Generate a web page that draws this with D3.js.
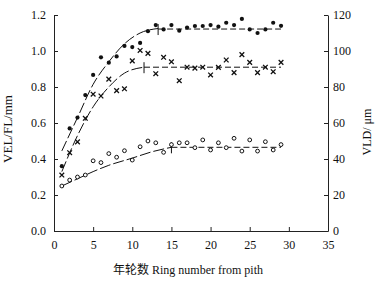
<!DOCTYPE html>
<html lang="zh">
<head>
<meta charset="UTF-8" />
<title>VEL / FL / VLD vs ring number</title>
<script src="https://d3js.org/d3.v7.min.js"></script>
<style>
  body { margin: 0; background: #fff; }
  svg { display: block; }
  .axis text { font-family: "Liberation Serif", "DejaVu Serif", serif; font-size: 12px; fill: #111; }
  .axis path, .axis line { stroke: #222; stroke-width: 1; }
  .lbl { font-family: "Liberation Serif", "Noto Sans CJK SC", serif; font-size: 12px; fill: #111; }
</style>
</head>
<body>
<svg width="378" height="290"></svg>
<script>
  const width = 378, height = 290;

  // ring number from pith
  const rings = d3.range(1, 30);

  // filled circles: VEL (mm)
  const velVals = [0.36, 0.57, 0.63, 0.755, 0.867, 0.965, 0.935, 0.97, 1.028, 1.022, 1.045, 1.11,
                   1.144, 1.12, 1.144, 1.113, 1.13, 1.139, 1.139, 1.144, 1.135, 1.157, 1.144, 1.178,
                   1.12, 1.10, 1.12, 1.157, 1.14];
  // crosses: FL (mm)
  const flVals = [0.311, 0.435, 0.495, 0.626, 0.76, 0.75, 0.844, 0.78, 0.79, 0.945, 1.003, 0.987,
                  0.874, 0.965, 0.94, 0.835, 0.91, 0.905, 0.91, 0.867, 0.909, 0.95, 0.88, 0.98,
                  0.937, 0.88, 0.91, 0.885, 0.937];
  // open circles: VLD (µm)
  const vldVals = [25, 28.3, 30, 31.1, 39, 38, 43, 41, 44.6, 39.4, 46.8, 50,
                   49, 43.7, 48, 49, 49, 46.3, 50.6, 45, 49, 46.3, 51.5, 44.4,
                   50.6, 44.4, 49.6, 45, 48];

  // fitted curves, break point then plateau
  const velFitX = [1, 3, 5, 7, 9, 11, 13.3], velFitY = [0.445, 0.63, 0.815, 0.94, 1.04, 1.10, 1.125];
  const velBreak = 13.3, velPlateau = 1.122;
  const flFitX = [1, 3, 5, 7, 9, 11.5], flFitY = [0.33, 0.53, 0.69, 0.80, 0.877, 0.91];
  const flBreak = 11.5, flPlateau = 0.91;
  const vldFitX = [1, 3, 5, 7, 10, 12.5, 15], vldFitY = [25, 29, 33, 36.5, 40.5, 44, 46.5];
  const vldBreak = 15, vldPlateau = 46.5;
  const lastRing = 29;

  const xTicks = [0, 5, 10, 15, 20, 25, 30, 35];
  const yLeftTicks = [0, 0.2, 0.4, 0.6, 0.8, 1.0, 1.2];
  const yRightTicks = [0, 20, 40, 60, 80, 100, 120];

  const x = d3.scaleLinear().domain([0, 35]).range([54, 328]);
  const yL = d3.scaleLinear().domain([0, 1.2]).range([231, 15]);
  const yR = d3.scaleLinear().domain([0, 120]).range([231, 15]);

  const svg = d3.select("svg");

  svg.append("g").attr("class", "axis")
    .attr("transform", `translate(${x(0)},0)`)
    .call(d3.axisLeft(yL).tickValues(yLeftTicks).tickFormat(d3.format(".1f")).tickSizeInner(-4).tickSizeOuter(0).tickPadding(8));

  svg.append("g").attr("class", "axis")
    .attr("transform", `translate(${x(35)},0)`)
    .call(d3.axisRight(yR).tickValues(yRightTicks).tickFormat(d3.format("d")).tickSizeInner(-4).tickSizeOuter(0).tickPadding(5));

  svg.append("g").attr("class", "axis")
    .attr("transform", `translate(0,${yL(0)})`)
    .call(d3.axisBottom(x).tickValues(xTicks).tickSizeInner(-4).tickSizeOuter(0).tickPadding(9));

  const line = d3.line().curve(d3.curveMonotoneX);

  function drawFit(fx, fy, brk, plat, ys) {
    const pts = fx.map((v, i) => [x(v), ys(fy[i])]);
    svg.append("path").attr("d", line(pts))
      .attr("fill", "none").attr("stroke", "#111").attr("stroke-width", 1)
      .attr("stroke-dasharray", "11,3");
    svg.append("path").attr("d", d3.line()([[x(brk), ys(plat)], [x(lastRing), ys(plat)]]))
      .attr("fill", "none").attr("stroke", "#111").attr("stroke-width", 1)
      .attr("stroke-dasharray", "6,3");
    svg.append("line")
      .attr("x1", x(brk)).attr("x2", x(brk))
      .attr("y1", ys(plat) - 5).attr("y2", ys(plat) + 6)
      .attr("stroke", "#111").attr("stroke-width", 1);
  }

  drawFit(velFitX, velFitY, velBreak, velPlateau, yL);
  drawFit(flFitX, flFitY, flBreak, flPlateau, yL);
  drawFit(vldFitX, vldFitY, vldBreak, vldPlateau, yR);

  // filled circles
  svg.append("g").selectAll("circle")
    .data(rings.map((r, i) => [r, velVals[i]]))
    .join("circle")
    .attr("cx", d => x(d[0])).attr("cy", d => yL(d[1]))
    .attr("r", 2.1).attr("fill", "#111");

  // crosses
  svg.append("g").selectAll("path")
    .data(rings.map((r, i) => [r, flVals[i]]))
    .join("path")
    .attr("transform", d => `translate(${x(d[0])},${yL(d[1])})`)
    .attr("d", d3.symbol(d3.symbolX, 16))
    .attr("fill", "none").attr("stroke", "#111").attr("stroke-width", 1.3);

  // open circles
  svg.append("g").selectAll("circle")
    .data(rings.map((r, i) => [r, vldVals[i]]))
    .join("circle")
    .attr("cx", d => x(d[0])).attr("cy", d => yR(d[1]))
    .attr("r", 1.9).attr("fill", "#fff").attr("stroke", "#111").attr("stroke-width", 1);

  // axis titles
  svg.append("text").attr("class", "lbl")
    .attr("transform", `translate(12,${yL(0.6) + 6}) rotate(-90)`)
    .attr("text-anchor", "middle").style("font-size", "13px").text("VEL/FL/mm");

  svg.append("text").attr("class", "lbl")
    .attr("transform", `translate(371,${yR(55)}) rotate(-90)`)
    .attr("text-anchor", "middle").text("VLD/ μm");

  svg.append("text").attr("class", "lbl")
    .attr("x", 188).attr("y", 274)
    .attr("text-anchor", "middle").text("年轮数 Ring number from pith");
</script>
</body>
</html>
